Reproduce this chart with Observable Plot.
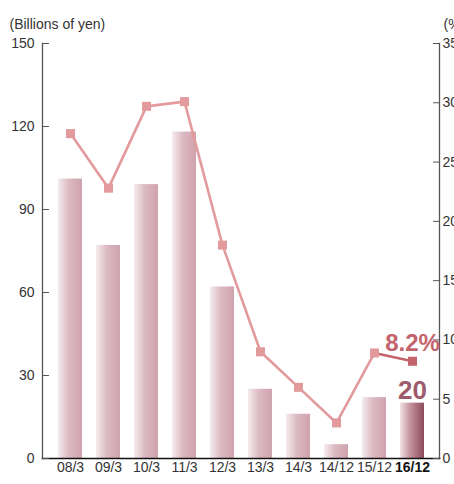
<!DOCTYPE html>
<html>
<head>
<meta charset="utf-8">
<script src="https://cdn.jsdelivr.net/npm/d3@7"></script>
<script src="https://cdn.jsdelivr.net/npm/@observablehq/plot@0.6"></script>
<style>
  body { margin: 0; background: #fff; }
  svg { display: block; }
</style>
</head>
<body>
<div id="chart"></div>
<script>
// Fiscal periods (year/month of period end)
const periods = ["08/3", "09/3", "10/3", "11/3", "12/3", "13/3", "14/3", "14/12", "15/12", "16/12"];
// Operating income, billions of yen (bars, left axis)
const income = [101, 77, 99, 118, 62, 25, 16, 5, 22, 20];
// Operating margin, % (line, right axis)
const marginPct = [27.4, 22.8, 29.7, 30.1, 18.0, 9.0, 6.0, 3.0, 8.9, 8.2];
// Axis ticks
const leftTicks = [0, 30, 60, 90, 120, 150];
const rightTicks = [0, 5, 10, 15, 20, 25, 30, 35];
const leftMax = 150;
const rightMax = 35;

// percent -> left-axis units so both series share one y scale
const toLeft = (p) => p * leftMax / rightMax;

const rows = periods.map((period, i) => ({
  period,
  income: income[i],
  pct: marginPct[i],
  latest: i === periods.length - 1
}));
const past = rows.filter((d) => !d.latest);
const latest = rows.filter((d) => d.latest);

const lineColor = "#e39a9c";
const latestLine = "#c3636b";

// gradient definitions for the bars
const defs = () => {
  const g = d3.create("svg:defs");
  const a = g.append("linearGradient").attr("id", "barPast").attr("x1", 0).attr("x2", 1).attr("y1", 0).attr("y2", 0);
  a.append("stop").attr("offset", "0%").attr("stop-color", "#f5ecee");
  a.append("stop").attr("offset", "45%").attr("stop-color", "#dcbac2");
  a.append("stop").attr("offset", "100%").attr("stop-color", "#cfa2ad");
  const b = g.append("linearGradient").attr("id", "barLatest").attr("x1", 0).attr("x2", 1).attr("y1", 0).attr("y2", 0);
  b.append("stop").attr("offset", "0%").attr("stop-color", "#f1e4e8");
  b.append("stop").attr("offset", "40%").attr("stop-color", "#c7959f");
  b.append("stop").attr("offset", "100%").attr("stop-color", "#8b4b5a");
  return g.node();
};

const chart = Plot.plot({
  width: 454,
  height: 484,
  marginLeft: 42,
  marginRight: 15,
  marginTop: 43,
  marginBottom: 26,
  style: { fontFamily: "'Liberation Sans', Arial, sans-serif", fontSize: "14px", color: "#333", background: "#fff" },
  x: { domain: periods, range: [51, 431], paddingInner: 0.368, paddingOuter: 0.184, axis: null },
  y: { domain: [0, leftMax], axis: null },
  marks: [
    defs,
    Plot.barY(past, { x: "period", y: "income", fill: "url(#barPast)" }),
    Plot.barY(latest, { x: "period", y: "income", fill: "url(#barLatest)" }),

    // frame lines
    Plot.frame({ anchor: "left", stroke: "#555", strokeWidth: 1.3 }),
    Plot.frame({ anchor: "right", stroke: "#555", strokeWidth: 1.3 }),
    Plot.frame({ anchor: "bottom", stroke: "#111", strokeWidth: 1.6 }),

    // left axis (billions of yen)
    Plot.axisY({ anchor: "left", ticks: leftTicks, tickSize: -7, tickPadding: 15, stroke: "#555", fill: "#333", label: null }),
    // right axis (%)
    Plot.axisY({
      anchor: "right",
      ticks: rightTicks.map(toLeft),
      tickFormat: (v) => String(Math.round(v * rightMax / leftMax)),
      tickSize: -7, tickPadding: 10, stroke: "#555", fill: "#333", label: null
    }),
    // category axis
    Plot.axisX({ ticks: periods.slice(0, -1), tickSize: 0, tickPadding: 4, fill: "#333", label: null }),
    Plot.axisX({ ticks: periods.slice(-1), tickSize: 0, tickPadding: 4, fill: "#111", fontWeight: "bold", label: null }),

    // axis titles
    Plot.text(["(Billions of yen)"], { frameAnchor: "top-left", dx: -33, dy: -15, textAnchor: "start", lineAnchor: "bottom", fill: "#333" }),
    Plot.text(["(%)"], { frameAnchor: "top-right", dx: 4, dy: -15, textAnchor: "start", lineAnchor: "bottom", fill: "#333" }),

    // margin line
    Plot.line(past, { x: "period", y: (d) => toLeft(d.pct), stroke: lineColor, strokeWidth: 2.6 }),
    Plot.line(rows.slice(-2), { x: "period", y: (d) => toLeft(d.pct), stroke: latestLine, strokeWidth: 2.6 }),
    Plot.dot(past, { x: "period", y: (d) => toLeft(d.pct), symbol: "square", r: 5.1, fill: lineColor }),
    Plot.dot(latest, { x: "period", y: (d) => toLeft(d.pct), symbol: "square", r: 5.1, fill: latestLine }),

    // value labels for the latest period
    Plot.text(latest, { x: "period", y: (d) => toLeft(d.pct), text: (d) => `${d.pct}%`, dy: -10, lineAnchor: "bottom", fontSize: 24, fontWeight: "bold", fill: "#c3636b" }),
    Plot.text(latest, { x: "period", y: "income", text: (d) => `${d.income}`, dy: -4, lineAnchor: "bottom", fontSize: 26, fontWeight: "bold", fill: "#9c5c6b" })
  ]
});

document.getElementById("chart").append(chart);
</script>
</body>
</html>
